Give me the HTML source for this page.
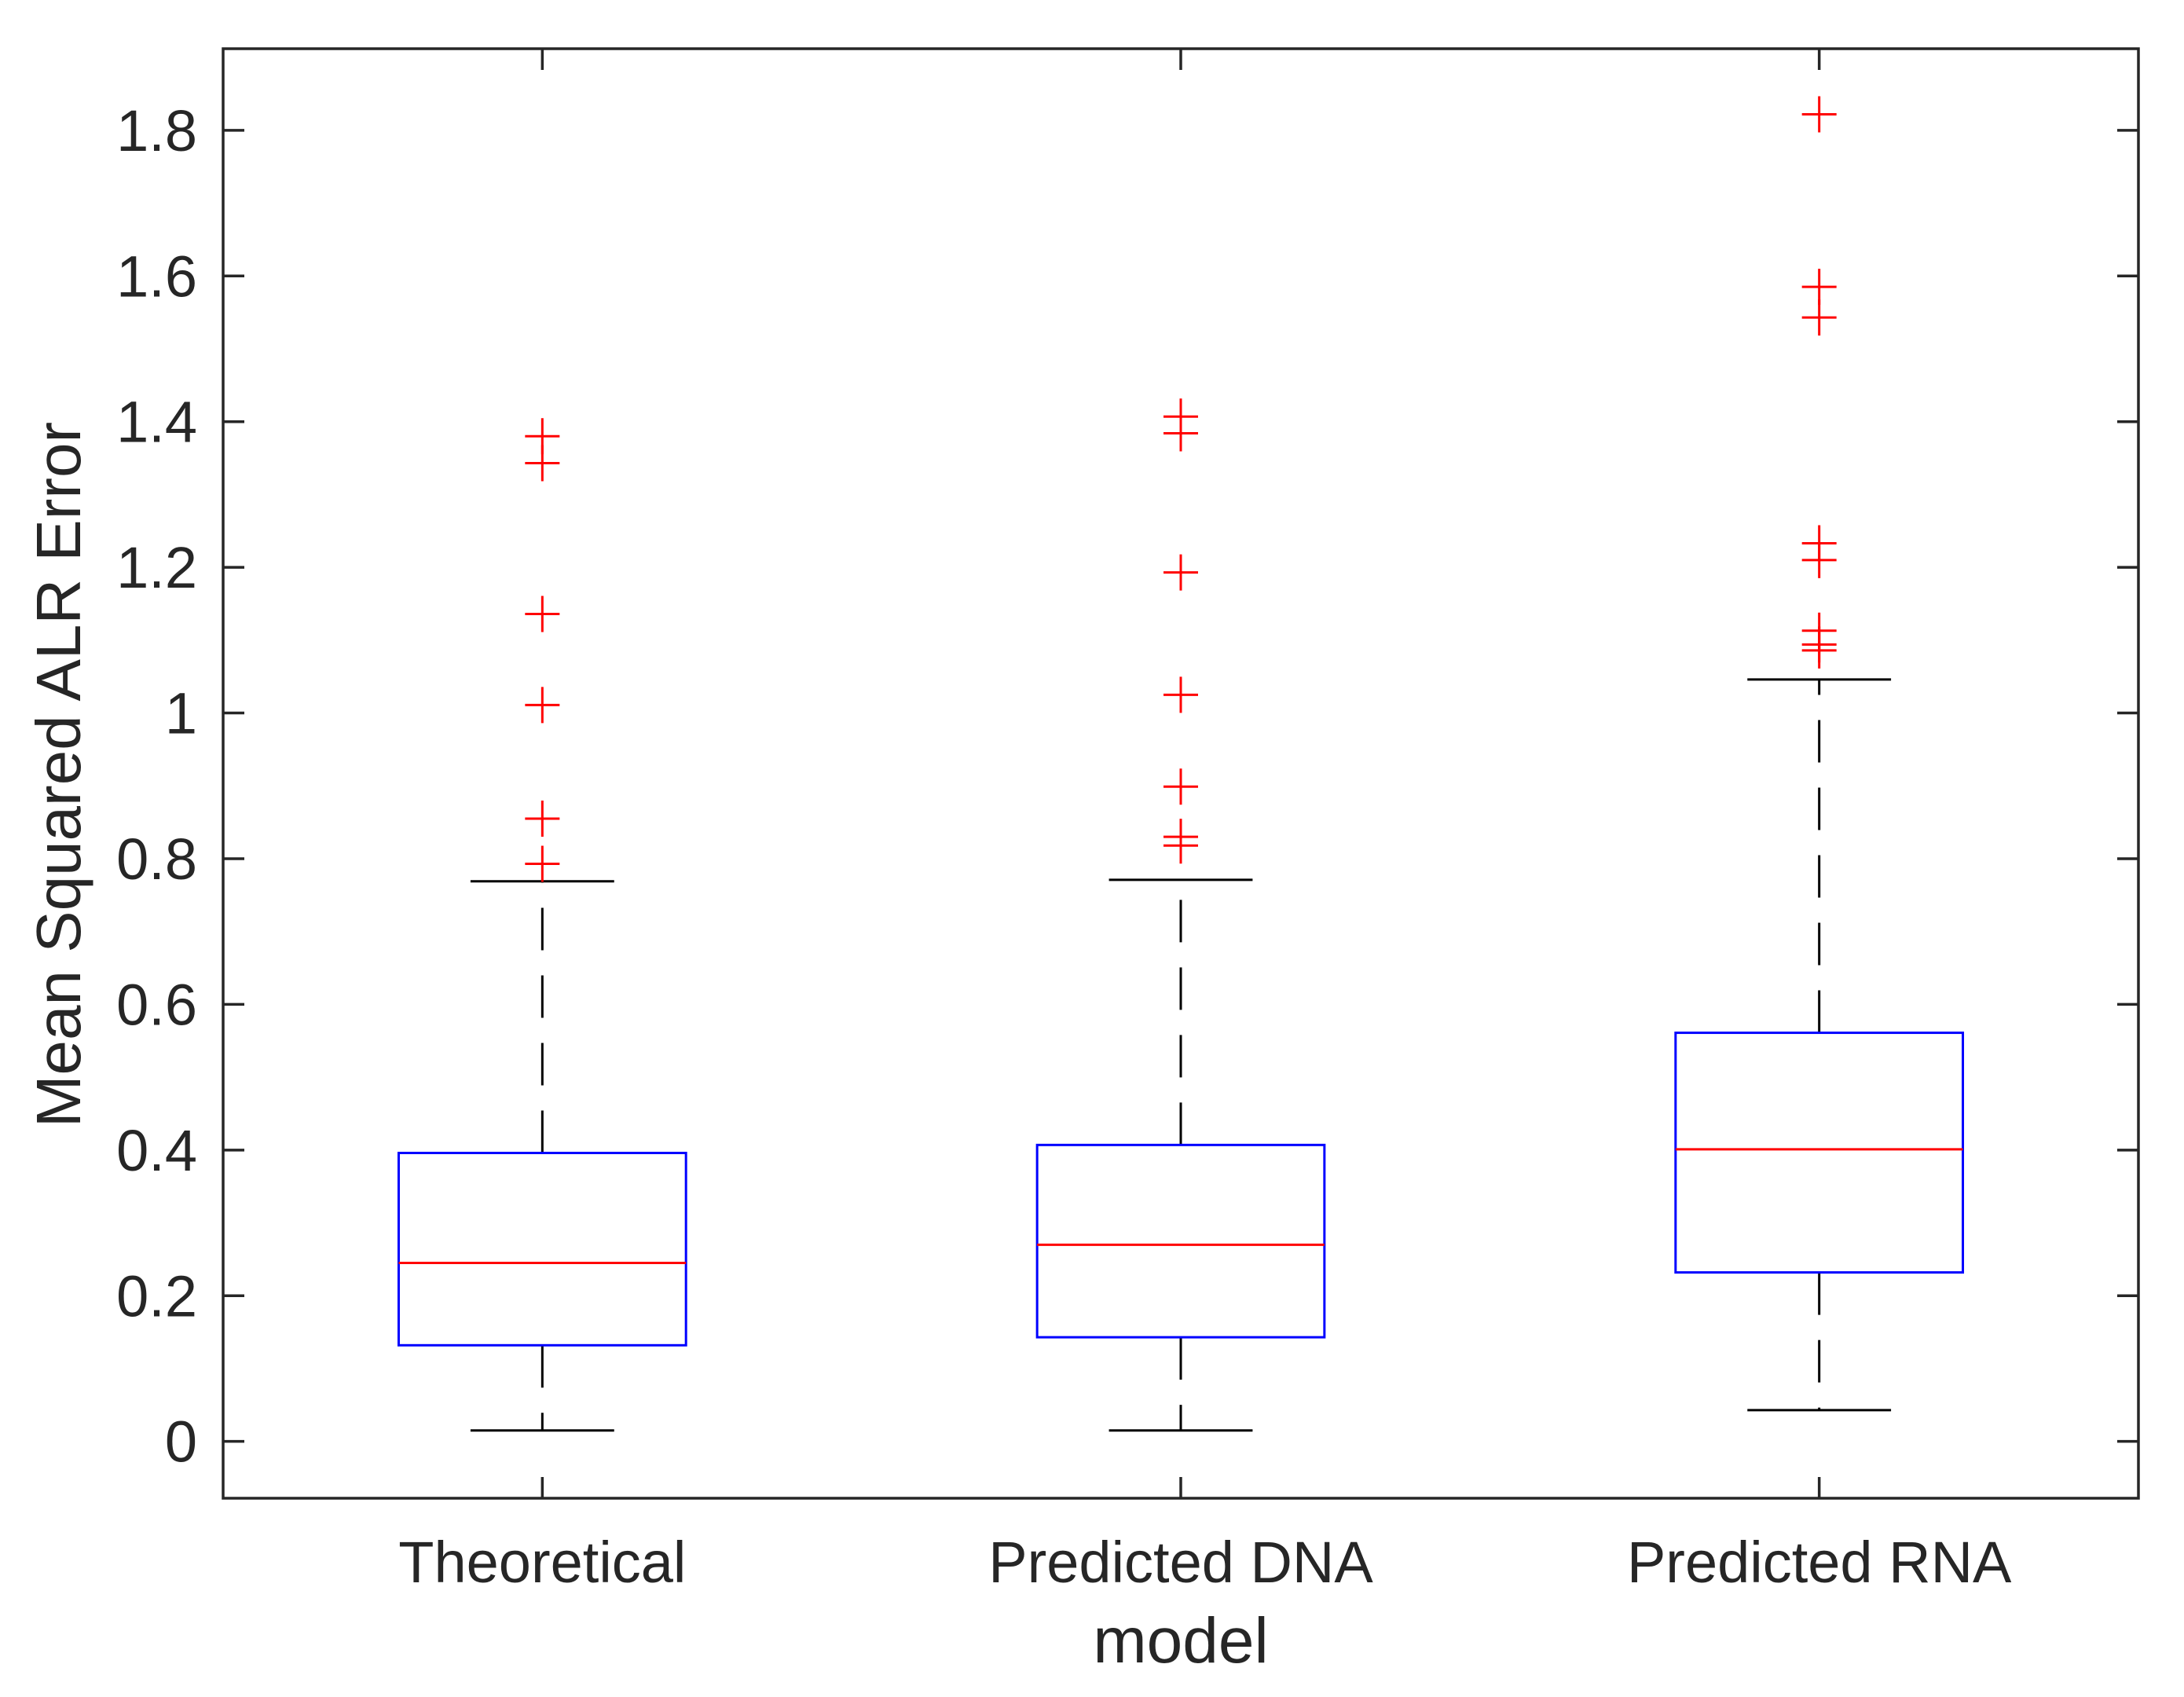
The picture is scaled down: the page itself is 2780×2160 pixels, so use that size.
<!DOCTYPE html>
<html><head><meta charset="utf-8"><style>
html,body{margin:0;padding:0;background:#fff;}
svg{display:block;}
text{font-family:"Liberation Sans",Arial,sans-serif;fill:#262626;}
</style></head><body>
<svg id="chart" width="2780" height="2160" viewBox="0 0 2780 2160" xmlns="http://www.w3.org/2000/svg">
<rect x="0" y="0" width="2780" height="2160" fill="#fff"/>
<g id="marks"></g>
<g id="axes"></g>
<text x="102" y="986" font-size="80" text-anchor="middle" transform="rotate(-90 102 986)">Mean Squared ALR Error</text>
<text x="1503" y="2116" font-size="82" text-anchor="middle">model</text>
</svg>
<script>
const categories = ["Theoretical", "Predicted DNA", "Predicted RNA"];
const q1 = [0.132, 0.143, 0.232];
const medians = [0.245, 0.270, 0.401];
const q3 = [0.396, 0.407, 0.561];
const whiskerLow = [0.015, 0.015, 0.043];
const whiskerHigh = [0.769, 0.771, 1.046];
const outliersTheoretical = [1.380, 1.343, 1.136, 1.011, 0.855, 0.793];
const outliersDNA = [1.407, 1.384, 1.193, 1.025, 0.899, 0.830, 0.818];
const outliersRNA = [1.822, 1.585, 1.543, 1.233, 1.210, 1.113, 1.094, 1.086];
const yTicks = [0, 0.2, 0.4, 0.6, 0.8, 1, 1.2, 1.4, 1.6, 1.8];
const yTickLabels = ["0", "0.2", "0.4", "0.6", "0.8", "1", "1.2", "1.4", "1.6", "1.8"];

const outliers = [outliersTheoretical, outliersDNA, outliersRNA];
const L = 284, R = 2722, T = 62, B = 1907;
const yMin = -0.078, yMax = 1.912;
function yS(v){ return B - (v - yMin) / (yMax - yMin) * (B - T); }
function xS(i){ return L + (i + 0.5) / categories.length * (R - L); }
const catW = (R - L) / categories.length;
const NS = "http://www.w3.org/2000/svg";
const marks = document.getElementById('marks');
const axes = document.getElementById('axes');
function mk(tag, attrs, parent){
  const e = document.createElementNS(NS, tag);
  for (const k in attrs) e.setAttribute(k, attrs[k]);
  parent.appendChild(e);
  return e;
}
categories.forEach((c, i) => {
  const cx = xS(i), hw = catW * 0.225, cw = catW * 0.1125;
  const g = mk('g', {}, marks);
  
  
  const wu = mk('line', {x1: cx, x2: cx, y1: yS(q3[i]), y2: yS(whiskerHigh[i]), stroke: '#000', 'stroke-width': 3, 'stroke-dasharray': '54 32'}, g);
  
  
  const wl = mk('line', {x1: cx, x2: cx, y1: yS(q1[i]), y2: yS(whiskerLow[i]), stroke: '#000', 'stroke-width': 3, 'stroke-dasharray': '54 32'}, g);
  
  
  const cu = mk('line', {x1: cx - cw, x2: cx + cw, y1: yS(whiskerHigh[i]), y2: yS(whiskerHigh[i]), stroke: '#000', 'stroke-width': 3}, g);
  
  
  const cl = mk('line', {x1: cx - cw, x2: cx + cw, y1: yS(whiskerLow[i]), y2: yS(whiskerLow[i]), stroke: '#000', 'stroke-width': 3}, g);
  
  
  const bx = mk('rect', {x: cx - hw, y: yS(q3[i]), width: 2 * hw, height: yS(q1[i]) - yS(q3[i]), fill: 'none', stroke: '#0000ff', 'stroke-width': 3}, g);
  
  
  const md = mk('line', {x1: cx - hw, x2: cx + hw, y1: yS(medians[i]), y2: yS(medians[i]), stroke: '#ff0000', 'stroke-width': 3}, g);
  
  
  outliers[i].forEach(v => {
    const y = yS(v);
    const p = mk('path', {d: `M${cx-22} ${y}H${cx+22}M${cx} ${y-23}V${y+23}`, stroke: '#ff0000', 'stroke-width': 3, fill: 'none'}, g);
    
    
  });
  const t = mk('text', {x: cx, y: 2014, 'font-size': 74, 'text-anchor': 'middle'}, axes);
  t.textContent = c;
  
  
  const tb = mk('line', {x1: cx, x2: cx, y1: B, y2: B - 27, stroke: '#262626', 'stroke-width': 3.5}, axes);
  
  
  const tt = mk('line', {x1: cx, x2: cx, y1: T, y2: T + 27, stroke: '#262626', 'stroke-width': 3.5}, axes);
  
  
});
yTicks.forEach((v, k) => {
  const y = yS(v);
  const a = mk('line', {x1: L, x2: L + 27, y1: y, y2: y, stroke: '#262626', 'stroke-width': 3.5}, axes);
  
  
  const b = mk('line', {x1: R, x2: R - 27, y1: y, y2: y, stroke: '#262626', 'stroke-width': 3.5}, axes);
  
  
  const t = mk('text', {x: 251, y: y + 26, 'font-size': 74, 'text-anchor': 'end'}, axes);
  t.textContent = yTickLabels[k];
  
  
});
const frame = mk('rect', {x: L, y: T, width: R - L, height: B - T, fill: 'none', stroke: '#262626', 'stroke-width': 3.5}, axes);


</script>
</body></html>
